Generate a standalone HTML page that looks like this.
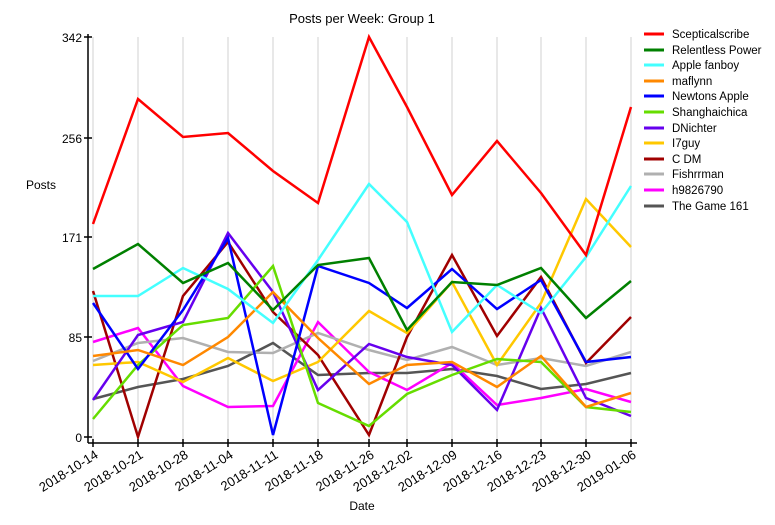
<!DOCTYPE html>
<html><head><meta charset="utf-8"><style>body{margin:0;background:#fff}svg{display:block;font-family:"Liberation Sans",sans-serif}</style></head>
<body>
<svg width="775" height="525" viewBox="0 0 775 525">
<text x="362" y="23" font-size="13" text-anchor="middle">Posts per Week: Group 1</text>
<g stroke="#d0d0d0" stroke-width="1">
<line x1="93" y1="37" x2="93" y2="443"/><line x1="138" y1="37" x2="138" y2="443"/><line x1="183" y1="37" x2="183" y2="443"/><line x1="228" y1="37" x2="228" y2="443"/><line x1="273" y1="37" x2="273" y2="443"/><line x1="318" y1="37" x2="318" y2="443"/><line x1="369" y1="37" x2="369" y2="443"/><line x1="407" y1="37" x2="407" y2="443"/><line x1="452" y1="37" x2="452" y2="443"/><line x1="497" y1="37" x2="497" y2="443"/><line x1="541" y1="37" x2="541" y2="443"/><line x1="586" y1="37" x2="586" y2="443"/><line x1="631" y1="37" x2="631" y2="443"/>
</g>
<g fill="none" stroke-width="2.5" stroke-linejoin="miter">
<polyline stroke="#555555" points="93,399 138,387 183,379 228,366 273,343 318,375 369,373 407,373 452,369 497,376 541,389 586,384 631,373"/>
<polyline stroke="#ff00ff" points="93,342 138,328 183,386 228,407 273,406 318,322 369,372 407,390 452,363 497,405 541,398 586,389 631,402"/>
<polyline stroke="#b0b0b0" points="93,361 138,343 183,338 228,352 273,353 318,333 369,350 407,360 452,347 497,365 541,358 586,366 631,352"/>
<polyline stroke="#a00000" points="93,291 138,437 183,296 228,242 273,312 318,355 369,435 407,337 452,255 497,336 541,277 586,363 631,317"/>
<polyline stroke="#ffc800" points="93,365 138,362 183,382 228,358 273,381 318,362 369,311 407,333 452,282 497,365 541,303 586,199 631,247"/>
<polyline stroke="#6600ee" points="93,400 138,335 183,322 228,233 273,292 318,390 369,344 407,357 452,365 497,410 541,308 586,398 631,416"/>
<polyline stroke="#66dd00" points="93,419 138,365 183,325 228,318 273,266 318,403 369,426 407,394 452,375 497,359 541,362 586,407 631,412"/>
<polyline stroke="#0000ff" points="93,303 138,369 183,310 228,238 273,435 318,266 369,283 407,308 452,269 497,309 541,280 586,362 631,357"/>
<polyline stroke="#ff8800" points="93,356 138,350 183,365 228,337 273,292 318,338 369,384 407,365 452,362 497,387 541,356 586,407 631,393"/>
<polyline stroke="#44ffff" points="93,296 138,296 183,268 228,289 273,323 318,260 369,184 407,222 452,332 497,285 541,313 586,257 631,186"/>
<polyline stroke="#008000" points="93,269 138,244 183,283 228,263 273,310 318,265 369,258 407,330 452,282 497,285 541,268 586,318 631,281"/>
<polyline stroke="#ff0000" points="93,224 138,99 183,137 228,133 273,171 318,203 369,37 407,107 452,195 497,141 541,193 586,255 631,107"/>
</g>
<g stroke="#000" stroke-width="1.5" fill="none">
<line x1="88" y1="34" x2="88" y2="443"/><line x1="88" y1="443" x2="637" y2="443"/>
<line x1="84" y1="37" x2="92" y2="37"/><line x1="84" y1="138" x2="92" y2="138"/><line x1="84" y1="237" x2="92" y2="237"/><line x1="84" y1="337" x2="92" y2="337"/><line x1="84" y1="437" x2="92" y2="437"/>
</g>
<g stroke="#000" stroke-width="1.5">
<line x1="93" y1="439" x2="93" y2="447"/><line x1="138" y1="439" x2="138" y2="447"/><line x1="183" y1="439" x2="183" y2="447"/><line x1="228" y1="439" x2="228" y2="447"/><line x1="273" y1="439" x2="273" y2="447"/><line x1="318" y1="439" x2="318" y2="447"/><line x1="369" y1="439" x2="369" y2="447"/><line x1="407" y1="439" x2="407" y2="447"/><line x1="452" y1="439" x2="452" y2="447"/><line x1="497" y1="439" x2="497" y2="447"/><line x1="541" y1="439" x2="541" y2="447"/><line x1="586" y1="439" x2="586" y2="447"/><line x1="631" y1="439" x2="631" y2="447"/>
</g>
<g font-size="12" text-anchor="end">
<text x="82" y="42">342</text><text x="82" y="143">256</text><text x="82" y="242">171</text><text x="82" y="342">85</text><text x="82" y="442">0</text>
</g>
<g font-size="13" text-anchor="end">
<text transform="translate(99,457) rotate(-32)">2018-10-14</text>
<text transform="translate(144,457) rotate(-32)">2018-10-21</text>
<text transform="translate(189,457) rotate(-32)">2018-10-28</text>
<text transform="translate(234,457) rotate(-32)">2018-11-04</text>
<text transform="translate(279,457) rotate(-32)">2018-11-11</text>
<text transform="translate(324,457) rotate(-32)">2018-11-18</text>
<text transform="translate(375,457) rotate(-32)">2018-11-26</text>
<text transform="translate(413,457) rotate(-32)">2018-12-02</text>
<text transform="translate(458,457) rotate(-32)">2018-12-09</text>
<text transform="translate(503,457) rotate(-32)">2018-12-16</text>
<text transform="translate(547,457) rotate(-32)">2018-12-23</text>
<text transform="translate(592,457) rotate(-32)">2018-12-30</text>
<text transform="translate(637,457) rotate(-32)">2019-01-06</text>
</g>
<text x="362" y="510" font-size="12" text-anchor="middle">Date</text>
<text x="26" y="189" font-size="12">Posts</text>
<g stroke-width="3">
<line x1="644" y1="34" x2="664" y2="34" stroke="#ff0000"/>
<line x1="644" y1="50" x2="664" y2="50" stroke="#008000"/>
<line x1="644" y1="65" x2="664" y2="65" stroke="#44ffff"/>
<line x1="644" y1="81" x2="664" y2="81" stroke="#ff8800"/>
<line x1="644" y1="96" x2="664" y2="96" stroke="#0000ff"/>
<line x1="644" y1="112" x2="664" y2="112" stroke="#66dd00"/>
<line x1="644" y1="128" x2="664" y2="128" stroke="#6600ee"/>
<line x1="644" y1="143" x2="664" y2="143" stroke="#ffc800"/>
<line x1="644" y1="159" x2="664" y2="159" stroke="#a00000"/>
<line x1="644" y1="174" x2="664" y2="174" stroke="#b0b0b0"/>
<line x1="644" y1="190" x2="664" y2="190" stroke="#ff00ff"/>
<line x1="644" y1="206" x2="664" y2="206" stroke="#555555"/>
</g>
<g font-size="11.5">
<text x="672" y="38">Scepticalscribe</text>
<text x="672" y="54">Relentless Power</text>
<text x="672" y="69">Apple fanboy</text>
<text x="672" y="85">maflynn</text>
<text x="672" y="100">Newtons Apple</text>
<text x="672" y="116">Shanghaichica</text>
<text x="672" y="132">DNichter</text>
<text x="672" y="147">I7guy</text>
<text x="672" y="163">C DM</text>
<text x="672" y="178">Fishrrman</text>
<text x="672" y="194">h9826790</text>
<text x="672" y="210">The Game 161</text>
</g>
</svg>
</body></html>
